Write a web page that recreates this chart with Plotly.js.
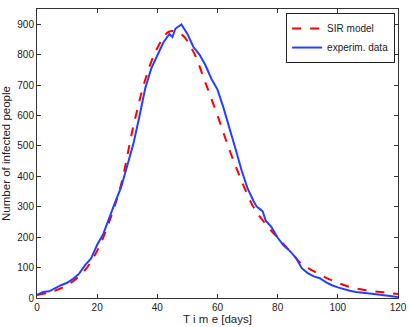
<!DOCTYPE html>
<html>
<head>
<meta charset="utf-8">
<script src="https://cdn.plot.ly/plotly-3.0.1.min.js"></script>
<style>
  html, body { margin: 0; padding: 0; background: #fff; }
  #chart { width: 409px; height: 327px; }
</style>
</head>
<body>
<div id="chart"></div>
<script>
// 실험 데이터 (파란 실선) - 그림에서 읽은 값
const expDays = [0, 2, 4, 6, 8, 10, 12, 14, 16, 18, 20, 22, 24, 26, 28, 30, 32, 34, 36, 38, 40, 42, 44, 45, 46, 48, 50, 52, 54, 56, 58, 60, 62, 64, 66, 68, 70, 72, 73, 74, 75, 76, 78, 80, 82, 84, 86, 88, 90, 92, 94, 96, 98, 100, 102, 104, 106, 108, 110, 112, 114, 116, 118, 120];
const expInfected = [10, 20, 22, 33, 42, 50, 63, 80, 108, 130, 175, 210, 265, 315, 365, 435, 505, 595, 690, 755, 800, 840, 868, 858, 885, 899, 868, 825, 800, 765, 720, 685, 625, 560, 490, 420, 360, 318, 301, 293, 285, 255, 232, 198, 172, 155, 133, 98, 82, 71, 65, 52, 42, 35, 29, 24, 20, 17, 14, 13, 11, 9, 6, 3];

// SIR 모델 (빨간 점선)
const sirDays = [0, 4, 8, 12, 16, 20, 24, 28, 32, 36, 40, 44, 48, 52, 56, 60, 64, 68, 72, 76, 80, 84, 88, 92, 96, 100, 104, 108, 112, 116, 120];
const sirInfected = [10, 18, 32, 55, 92, 155, 250, 375, 563, 718, 822, 876, 867, 809, 707, 600, 486, 385, 298, 243, 198, 155, 112, 88, 67, 50, 36, 28, 22, 18, 13];

const FONT = 'Liberation Sans, Arial, Helvetica, sans-serif';

const traces = [
    {
        x: sirDays,
        y: sirInfected,
        type: 'scatter',
        mode: 'lines',
        name: 'SIR model',
        line: { color: '#ff0000', width: 2, dash: 'dash', shape: 'spline', smoothing: 1 }
    },
    {
        x: expDays,
        y: expInfected,
        type: 'scatter',
        mode: 'lines',
        name: 'experim. data',
        line: { color: '#2440ff', width: 2 }
    }
];

const axisCommon = {
    showgrid: false,
    zeroline: false,
    showline: true,
    linecolor: '#333',
    linewidth: 1,
    mirror: 'ticks',
    ticks: 'inside',
    ticklen: 4,
    tickcolor: '#333',
    tickfont: { family: FONT, size: 10, color: '#222' }
};

const layout = {
    width: 409,
    height: 327,
    margin: { l: 37, r: 11, t: 9, b: 29 },
    paper_bgcolor: '#fff',
    plot_bgcolor: '#fff',
    font: { family: FONT, color: '#222' },
    xaxis: Object.assign({}, axisCommon, {
        range: [0, 120],
        dtick: 20,
        title: { text: 'T i m e [days]', font: { family: FONT, size: 11.5 }, standoff: 2 }
    }),
    yaxis: Object.assign({}, axisCommon, {
        range: [0, 950],
        dtick: 100,
        title: { text: 'Number of infected people', font: { family: FONT, size: 11.5 }, standoff: 4 }
    }),
    showlegend: true,
    legend: {
        x: 0.992,
        y: 0.986,
        xanchor: 'right',
        yanchor: 'top',
        bgcolor: '#fff',
        bordercolor: '#222',
        borderwidth: 1,
        font: { family: FONT, size: 10, color: '#222' },
        tracegroupgap: 0,
        itemwidth: 30
    }
};

Plotly.newPlot('chart', traces, layout, { staticPlot: true, displayModeBar: false });
</script>
</body>
</html>
